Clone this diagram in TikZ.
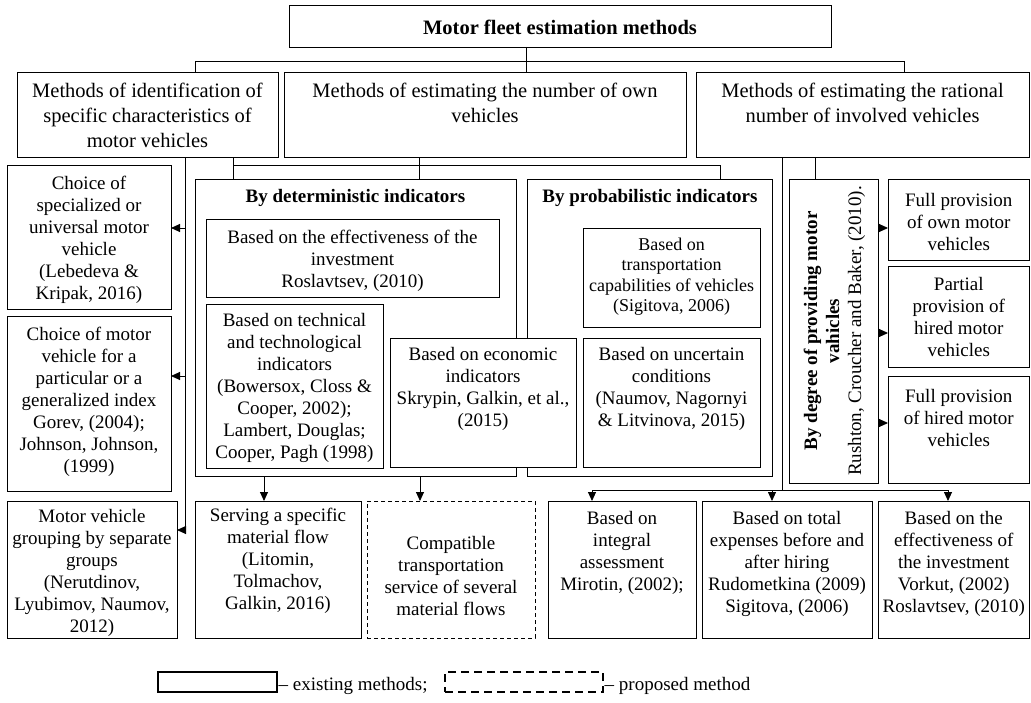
\documentclass[tikz,border=0pt]{standalone}
\usepackage{fontspec}
\setmainfont{Liberation Serif}
\usetikzlibrary{arrows.meta}
\begin{document}
\begin{tikzpicture}[x=1bp, y=-1bp,
  box/.style={draw, line width=0.9bp, inner sep=0pt, outer sep=0pt, fill=white},
  dbox/.style={box, dash pattern=on 4bp off 3bp},
  txt/.style={align=center, inner sep=0pt, font=\fontsize{19bp}{22bp}\selectfont},
  txs/.style={txt, font=\fontsize{18bp}{20.5bp}\selectfont},
  big/.style={txt, font=\fontsize{20.5bp}{25bp}\selectfont},
  head/.style={txt, font=\bfseries\fontsize{19bp}{22bp}\selectfont},
  ttl/.style={txt, font=\bfseries\fontsize{20.5bp}{25bp}\selectfont},
  link/.style={line width=0.9bp},
  arr/.style={link, -{Triangle[length=9bp,width=8bp]}}]
\path[fill=white] (0,0) rectangle (1031,703);
\useasboundingbox (0,0) rectangle (1031,703);

% ---- top level ----
\node[box, minimum width=542bp, minimum height=42bp] (title) at (560,26) {};
\node[ttl] (title-t) at (560,27) {Motor fleet estimation methods};

% ---- second level ----
\node[box, minimum width=261bp, minimum height=85bp] (L1) at (147.5,114.5) {};
\node[big] (L1-t) at (147.5,115) {Methods of identification of\\specific characteristics of\\motor vehicles};
\node[box, minimum width=402bp, minimum height=85bp] (L2) at (485,114.5) {};
\node[big] (L2-t) at (485,103) {Methods of estimating the number of own\\vehicles};
\node[box, minimum width=333bp, minimum height=85bp] (L3) at (862.5,114.5) {};
\node[big] (L3-t) at (862.5,103) {Methods of estimating the rational\\number of involved vehicles};

% ---- left column ----
\node[box, minimum width=164bp, minimum height=144bp] (ch1) at (89,237) {};
\node[txt] (ch1-t) at (89,240) {Choice of\\specialized or\\universal motor\\vehicle\\(Lebedeva \&\\Kripak, 2016)};
\node[box, minimum width=164bp, minimum height=175bp] (ch2) at (89,403.5) {};
\node[txt] (ch2-t) at (89,401.5) {Choice of motor\\vehicle for a\\particular or a\\generalized index\\Gorev, (2004);\\Johnson, Johnson,\\(1999)};
\node[box, minimum width=170bp, minimum height=137bp] (grp) at (92,569.5) {};
\node[txt] (grp-t) at (92,572.5) {Motor vehicle\\grouping by separate\\groups\\(Nerutdinov,\\Lyubimov, Naumov,\\2012)};

% ---- deterministic indicators ----
\node[box, minimum width=321bp, minimum height=297bp] (det) at (355.5,327.5) {};
\node[head] (det-t) at (355.5,198) {By deterministic indicators};
\node[box, minimum width=293bp, minimum height=78bp] (eff) at (352.5,258) {};
\node[txt] (eff-t) at (352.5,261) {Based on the effectiveness of the\\investment\\Roslavtsev, (2010)};
\node[box, minimum width=177bp, minimum height=164bp] (tech) at (294.5,386) {};
\node[txt] (tech-t) at (294.5,388) {Based on technical\\and technological\\indicators\\(Bowersox, Closs \&\\Cooper, 2002);\\Lambert, Douglas;\\Cooper, Pagh (1998)};

% ---- probabilistic indicators ----
\node[box, minimum width=245bp, minimum height=297bp] (prob) at (649.5,327.5) {};
\node[head] (prob-t) at (650,198) {By probabilistic indicators};
\node[box, minimum width=177bp, minimum height=99bp] (trans) at (671.5,277.5) {};
\node[txs] (trans-t) at (671.5,276.5) {Based on\\transportation\\capabilities of vehicles\\(Sigitova, 2006)};
\node[box, minimum width=177bp, minimum height=129bp] (unc) at (671.5,402.5) {};
\node[txt] (unc-t) at (671.5,389) {Based on uncertain\\conditions\\(Naumov, Nagornyi\\\& Litvinova, 2015)};

% economic box straddles both groups
\node[box, minimum width=186bp, minimum height=129bp] (eco) at (483,402.5) {};
\node[txt] (eco-t) at (483,389) {Based on economic\\indicators\\Skrypin, Galkin, et al.,\\(2015)};

% ---- degree of provision ----
\node[box, minimum width=89bp, minimum height=304bp] (deg) at (833.5,331) {};
\node[txt, rotate=90] (deg-t) at (834.5,331) {\textbf{By degree of providing motor}\\\textbf{vahicles}\\Rushton, Croucher and Baker, (2010).};
\node[box, minimum width=141.5bp, minimum height=81bp] (own) at (958.75,219.5) {};
\node[txt] (own-t) at (958.75,222) {Full provision\\of own motor\\vehicles};
\node[box, minimum width=141.5bp, minimum height=101bp] (part) at (958.75,316.5) {};
\node[txt] (part-t) at (958.75,317) {Partial\\provision of\\hired motor\\vehicles};
\node[box, minimum width=141.5bp, minimum height=107bp] (hired) at (958.75,429.5) {};
\node[txt] (hired-t) at (958.75,418) {Full provision\\of hired motor\\vehicles};

% ---- bottom row ----
\node[box, minimum width=166bp, minimum height=137bp] (serv) at (278,569.5) {};
\node[txt] (serv-t) at (278,561) {Serving a specific\\material flow\\(Litomin,\\Tolmachov,\\Galkin, 2016)};
\node[dbox, minimum width=168bp, minimum height=137bp] (comp) at (451,569.5) {};
\node[txt] (comp-t) at (451,576) {Compatible\\transportation\\service of several\\material flows};
\node[box, minimum width=148bp, minimum height=137bp] (integ) at (622,569.5) {};
\node[txt] (integ-t) at (622,553) {Based on\\integral\\assessment\\Mirotin, (2002);};
\node[box, minimum width=170bp, minimum height=137bp] (total) at (787,569.5) {};
\node[txt] (total-t) at (787,564) {Based on total\\expenses before and\\after hiring\\Rudometkina (2009)\\Sigitova, (2006)};
\node[box, minimum width=151.5bp, minimum height=137bp] (invest) at (953.75,569.5) {};
\node[txt] (invest-t) at (953.75,564) {Based on the\\effectiveness of\\the investment\\Vorkut, (2002)\\Roslavtsev, (2010)};

% ---- connectors: top ----
\coordinate (j0) at (526,61);
\coordinate (j1) at (195,61);
\coordinate (j2) at (904,61);
\draw[link] (title.south -| j0) -- (L2.north -| j0);
\draw[link] (L1.north -| j1) -- (j1) -- (j2) -- (L3.north -| j2);

% left bus
\coordinate (lb) at (185,530);
\coordinate (la1) at (185,228);
\coordinate (la2) at (185,376);
\draw[arr] (L1.south -| lb) -- (lb) -- (lb -| grp.east);
\draw[arr] (la1) -- (la1 -| ch1.east);
\draw[arr] (la2) -- (la2 -| ch2.east);

% middle bus
\coordinate (m0) at (233,165);
\coordinate (m1) at (419,165);
\coordinate (m2) at (720,165);
\draw[link] (L1.south -| m0) -- (det.north -| m0);
\draw[link] (L2.south -| m1) -- (det.north -| m1);
\draw[link] (m0) -- (m2) -- (prob.north -| m2);

% right side
\coordinate (r1) at (815,170);
\draw[link] (L3.south -| r1) -- (deg.north -| r1);
\coordinate (r0) at (782,490);
\coordinate (b1) at (592,490);
\coordinate (b2) at (772,490);
\coordinate (b3) at (948,490);
\draw[link] (L3.south -| r0) -- (r0);
\draw[link] (b1) -- (b3);
\draw[arr] (b1) -- (b1 |- integ.north);
\draw[arr] (b2) -- (b2 |- total.north);
\draw[arr] (b3) -- (b3 |- invest.north);

\coordinate (d1) at (883,228);
\coordinate (d2) at (883,333);
\coordinate (d3) at (883,423);
\draw[arr] (deg.east |- d1) -- (own.west |- d1);
\draw[arr] (deg.east |- d2) -- (part.west |- d2);
\draw[arr] (deg.east |- d3) -- (hired.west |- d3);

% deterministic group to bottom row
\coordinate (s1) at (264,490);
\coordinate (s2) at (420,490);
\draw[arr] (det.south -| s1) -- (serv.north -| s1);
\draw[arr] (det.south -| s2) -- (comp.north -| s2);

% ---- legend ----
\node[box, line width=1.2bp, minimum width=119bp, minimum height=20bp] (legS) at (217.5,682) {};
\node[txt, anchor=base west] (legS-t) at ([xshift=1.5bp]legS.east |- 0,690) {-- existing methods;};
\node[box, line width=1.2bp, dash pattern=on 8bp off 5bp, minimum width=158bp, minimum height=20bp] (legD) at (524,682) {};
\node[txt, anchor=base west] (legD-t) at ([xshift=1.5bp]legD.east |- 0,690) {-- proposed method};
\end{tikzpicture}
\end{document}
